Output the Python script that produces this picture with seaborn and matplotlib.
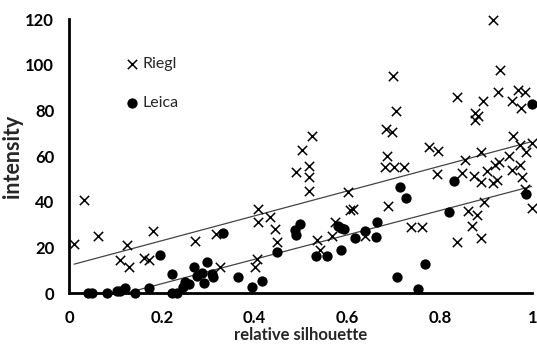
import numpy as np
import pandas as pd
import matplotlib
matplotlib.use('Agg')
import matplotlib.pyplot as plt
import seaborn as sns

# Riegl scanner points (relative silhouette, intensity)
riegl_x = [0.01, 0.032, 0.062, 0.109, 0.125, 0.128, 0.162, 0.172, 0.18, 0.272,
           0.317, 0.325, 0.407, 0.408, 0.405, 0.401, 0.434, 0.444, 0.448, 0.49,
           0.502, 0.524, 0.518, 0.518, 0.518, 0.534, 0.542, 0.567, 0.574, 0.601,
           0.606, 0.613, 0.639, 0.682, 0.686, 0.684, 0.696, 0.699, 0.706, 0.7,
           0.722, 0.688, 0.737, 0.762, 0.777, 0.797, 0.795, 0.837, 0.838, 0.848,
           0.855, 0.861, 0.87, 0.873, 0.876, 0.883, 0.877, 0.88, 0.888, 0.888,
           0.89, 0.893, 0.896, 0.903, 0.916, 0.916, 0.924, 0.92, 0.927, 0.925,
           0.93, 0.949, 0.956, 0.956, 0.958, 0.97, 0.985, 0.975, 0.973, 0.974,
           0.978, 0.987, 0.999, 0.985, 0.999]
riegl_y = [21.5, 41, 25, 14.5, 21, 11.3, 15.5, 14.5, 27, 23,
           26, 11.5, 37, 31, 15, 11.4, 33.2, 28, 22.5, 53,
           62.7, 68.9, 55.6, 51, 44.9, 23.3, 19, 25.2, 31, 44.2,
           36.4, 37, 25, 55.2, 60, 72, 70.6, 95, 80, 55.2,
           55.2, 38, 29.1, 29.1, 64, 62.5, 52.2, 85.8, 22.3, 52.8,
           58.5, 36.1, 29.3, 51.3, 79, 77.5, 76, 34.2, 48.8, 24,
           62, 84, 40, 53.6, 119.6, 48.1, 49.6, 56.1, 57.6, 88,
           97.8, 60.3, 54, 84, 68.9, 89, 88.3, 81, 56.1, 65,
           51, 62, 65.7, 45.5, 37.1]

# Leica scanner points
leica_x = [0.041, 0.048, 0.08, 0.102, 0.109, 0.12, 0.142, 0.171, 0.195, 0.221,
           0.221, 0.232, 0.245, 0.25, 0.259, 0.268, 0.275, 0.286, 0.29, 0.298,
           0.307, 0.31, 0.331, 0.365, 0.395, 0.416, 0.448, 0.487, 0.49, 0.497,
           0.533, 0.557, 0.587, 0.581, 0.587, 0.592, 0.616, 0.638, 0.663, 0.664,
           0.715, 0.727, 0.707, 0.768, 0.752, 0.819, 0.831, 0.986, 0.999]
leica_y = [0, 0, 0, 1, 1, 2.3, 0, 2, 16.6, 8.5,
           0, 0, 2.8, 4.7, 4, 11.4, 7.5, 8.8, 4.2, 13.4,
           8.4, 7, 26.5, 7, 2.6, 5.3, 18.1, 27.5, 25.5, 30.3,
           16.2, 16.2, 18.9, 29.6, 28.4, 27.9, 24.1, 27.3, 24.7, 31.1,
           46.4, 41.5, 7, 12.7, 1.9, 35.7, 49.3, 43.4, 83]

x_ticks = [0, 0.2, 0.4, 0.6, 0.8, 1]
x_tick_labels = ['0', '0.2', '0.4', '0.6', '0.8', '1']
y_ticks = [0, 20, 40, 60, 80, 100, 120]

riegl = pd.DataFrame({'silhouette': riegl_x, 'intensity': riegl_y})
leica = pd.DataFrame({'silhouette': leica_x, 'intensity': leica_y})

sns.set_style('white')
plt.rcParams['font.family'] = ['Lato', 'DejaVu Sans']

fig = plt.figure(figsize=(5.37, 3.47), dpi=100)
ax = fig.add_axes([0.1294, 0.1556, 0.862, 0.7885])

# trend lines (least squares, like the spreadsheet trendline)
sns.regplot(data=riegl, x='silhouette', y='intensity', scatter=False, ci=None,
            truncate=True, color='#444444', line_kws={'linewidth': 0.9}, ax=ax)
sns.regplot(data=leica, x='silhouette', y='intensity', scatter=False, ci=None,
            truncate=True, color='#444444', line_kws={'linewidth': 0.9}, ax=ax)

sns.scatterplot(data=riegl, x='silhouette', y='intensity', marker='x', s=45,
                color='black', linewidth=1.1, label='Riegl', ax=ax, zorder=3,
                clip_on=False)
sns.scatterplot(data=leica, x='silhouette', y='intensity', marker='o', s=55,
                color='black', edgecolor='black', linewidth=0, label='Leica',
                ax=ax, zorder=3, clip_on=False)

ax.set_xlim(0, 1)
ax.set_ylim(0, 120)
ax.set_xticks(x_ticks)
ax.set_xticklabels(x_tick_labels)
ax.set_yticks(y_ticks)
ax.tick_params(axis='both', direction='out', length=4, width=1.5,
               labelsize=12, colors='black')
ax.tick_params(axis='x', pad=8)
ax.tick_params(axis='y', pad=7)
for lab in ax.get_xticklabels() + ax.get_yticklabels():
    lab.set_fontweight('bold')

for side in ['top', 'right']:
    ax.spines[side].set_visible(False)
for side in ['left', 'bottom']:
    ax.spines[side].set_linewidth(2)
    ax.spines[side].set_color('black')

ax.set_xlabel('relative silhouette', fontsize=12, fontweight='bold', labelpad=1)
ax.set_ylabel('intensity', fontsize=15.5, fontweight='bold', labelpad=2)

ax.legend(loc='upper left', bbox_to_anchor=(0.1, 0.885), frameon=False,
          fontsize=11.5, handletextpad=0.1, labelspacing=1.55,
          handlelength=1.2, borderaxespad=0)

fig.savefig('out.png', dpi=100)
